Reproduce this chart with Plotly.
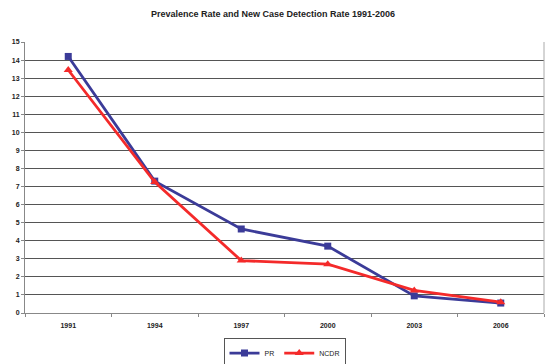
import plotly.graph_objects as go

years = ["1991", "1994", "1997", "2000", "2003", "2006"]
pr = [14.2, 7.3, 4.65, 3.7, 0.95, 0.55]
ncdr = [13.45, 7.25, 2.9, 2.7, 1.25, 0.6]

fig = go.Figure()
fig.add_trace(go.Scatter(x=years, y=pr, name="PR", mode="lines+markers",
                         line=dict(color="#3b3b98", width=2.8),
                         marker=dict(symbol="square", size=7, color="#3b3b98")))
fig.add_trace(go.Scatter(x=years, y=ncdr, name="NCDR", mode="lines+markers",
                         line=dict(color="#f42a2a", width=2.8),
                         marker=dict(symbol="triangle-up", size=8, color="#f42a2a")))

fig.update_layout(
    width=546, height=364,
    margin=dict(l=25, r=2, t=42, b=51),
    paper_bgcolor="white", plot_bgcolor="white",
    font=dict(family="Liberation Sans, Arial, sans-serif", size=7, color="#222"),
    title=dict(text="<b>Prevalence Rate and New Case Detection Rate 1991-2006</b>",
               x=0.5, xanchor="center", y=0.962, yanchor="middle",
               font=dict(size=9, color="#222")),
    showlegend=True,
    legend=dict(orientation="h", x=0.5, xanchor="center", yref="container",
                y=0.03, yanchor="middle",
                bordercolor="#555", borderwidth=1, font=dict(size=7, color="#222"),
                itemwidth=30, tracegroupgap=0),
    xaxis=dict(type="category", range=[-0.5, 5.5], tickson="boundaries",
               ticks="outside", ticklen=3, tickcolor="#888", automargin=False,
               showline=True, linecolor="#888", linewidth=1, mirror=False,
               showgrid=False, tickfont=dict(size=7, color="#222"),
               ticklabelstandoff=6,
               tickprefix="<b>", ticksuffix="</b>"),
    yaxis=dict(range=[0, 15], dtick=1, ticks="outside", ticklen=3, tickcolor="#888",
               showline=True, linecolor="#888", linewidth=1, automargin=False,
               showgrid=True, gridcolor="#555", gridwidth=1,
               zeroline=False, tickfont=dict(size=7, color="#222"),
               tickprefix="<b>", ticksuffix="</b>"),
)
fig.add_shape(type="line", xref="paper", yref="paper", x0=1, x1=1, y0=0, y1=1,
              line=dict(color="#aaa", width=1))
fig.write_html("out.html", config={"displayModeBar": False},
               post_script="document.body.style.margin='0';document.body.style.overflow='hidden';")
